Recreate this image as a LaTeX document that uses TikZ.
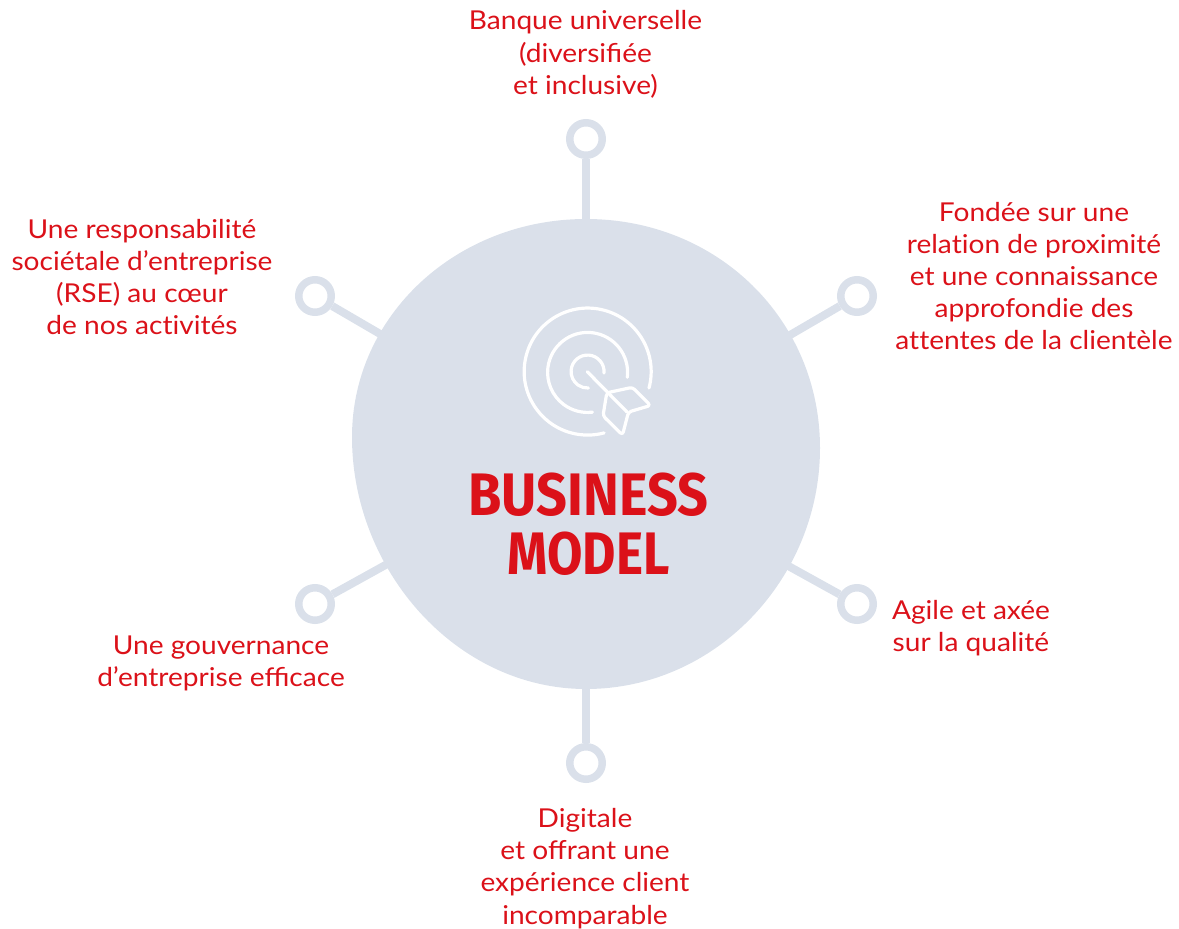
\documentclass[tikz,border=0pt]{standalone}
\usepackage{fontspec}
\setmainfont[FakeStretch=1.08]{Lato}
\newfontfamily\titlefont[FakeStretch=0.9]{Fira Sans}
\newfontfamily\modelfont[FakeStretch=0.855]{Fira Sans}
\definecolor{hubgray}{HTML}{DAE0EA}
\definecolor{brandred}{HTML}{DB1119}
\begin{document}
\begin{tikzpicture}[x=1pt, y=-1pt]
\tikzset{ring/.style={circle, draw=hubgray, line width=7.5pt, fill=white, minimum size=32.5pt, inner sep=0pt}}
\tikzset{spoke/.style={draw=hubgray, line width=8pt}}
\tikzset{lbl/.style={text=brandred, align=center, inner sep=0pt, font=\fontsize{26}{32.2}\selectfont}}
\tikzset{title/.style={text=brandred, align=center, inner sep=0pt, font=\bfseries\fontsize{60}{59}\selectfont}}
\tikzset{icon/.style={draw=white, line width=3.2pt, line cap=round, line join=round}}
\useasboundingbox (0,0) rectangle (1179,929);

\fill[hubgray] (586,219) .. controls (718,219) and (820,320) .. (820,448)
  .. controls (820,578) and (716,689) .. (586,689)
  .. controls (456,689) and (352,570) .. (352,437)
  .. controls (352,316) and (456,219) .. (586,219) -- cycle;
\coordinate (hub) at (586,454);

\node[ring] (rt) at (586,139) {};
\node[ring] (rtr) at (857,296) {};
\node[ring] (rbr) at (857,604) {};
\node[ring] (rb) at (586,763) {};
\node[ring] (rbl) at (315,604) {};
\node[ring] (rtl) at (315,296) {};

\path[spoke] (rt) -- (hub);
\path[spoke] (rtr) -- (hub);
\path[spoke] (rbr) -- (hub);
\path[spoke] (rb) -- (hub);
\path[spoke] (rbl) -- (hub);
\path[spoke] (rtl) -- (hub);

% target and arrow
\draw[icon] (649,388) arc (15:-285:63.5);
\draw[icon] (627.3,377.3) arc (7:-277:40);
\draw[icon] (604,373) arc (5:-273:16.5);
\draw[icon] (587.3,371.7) -- (627,412);
\draw[icon, rounded corners=3pt] (606.8,392.8) -- (632.5,387.3) -- (650.5,405.5) -- (628.5,412)
  -- (622.5,435) -- (603,415.8) -- cycle;

\node[title] (model) at (588.5,524) {\titlefont BUSINESS\\\modelfont MODEL};

\node[lbl] (ltop) at (585.5,54.5) {Banque universelle\\(diversifiée\\et inclusive)};
\node[lbl] (ltr) at (1034,276) {Fondée sur une\\relat\kern0pt ion de proximité\\et une connaissance\\approfondie des\\at\kern0pt tentes de la clientèle};
\node[lbl] (lbr) at (971,628.5) {Agile et axée\\sur la qualité};
\node[lbl] (lb) at (585,868.5) {Digitale\\et offrant une\\expérience client\\incomparable};
\node[lbl] (lbl) at (221,663.5) {Une gouvernance\\d’entreprise efficace};
\node[lbl] (ltl) at (142,277) {Une responsabilité\\sociétale d’entreprise\\(RSE) au cœur\\de nos act\kern0pt ivités};
\end{tikzpicture}
\end{document}
